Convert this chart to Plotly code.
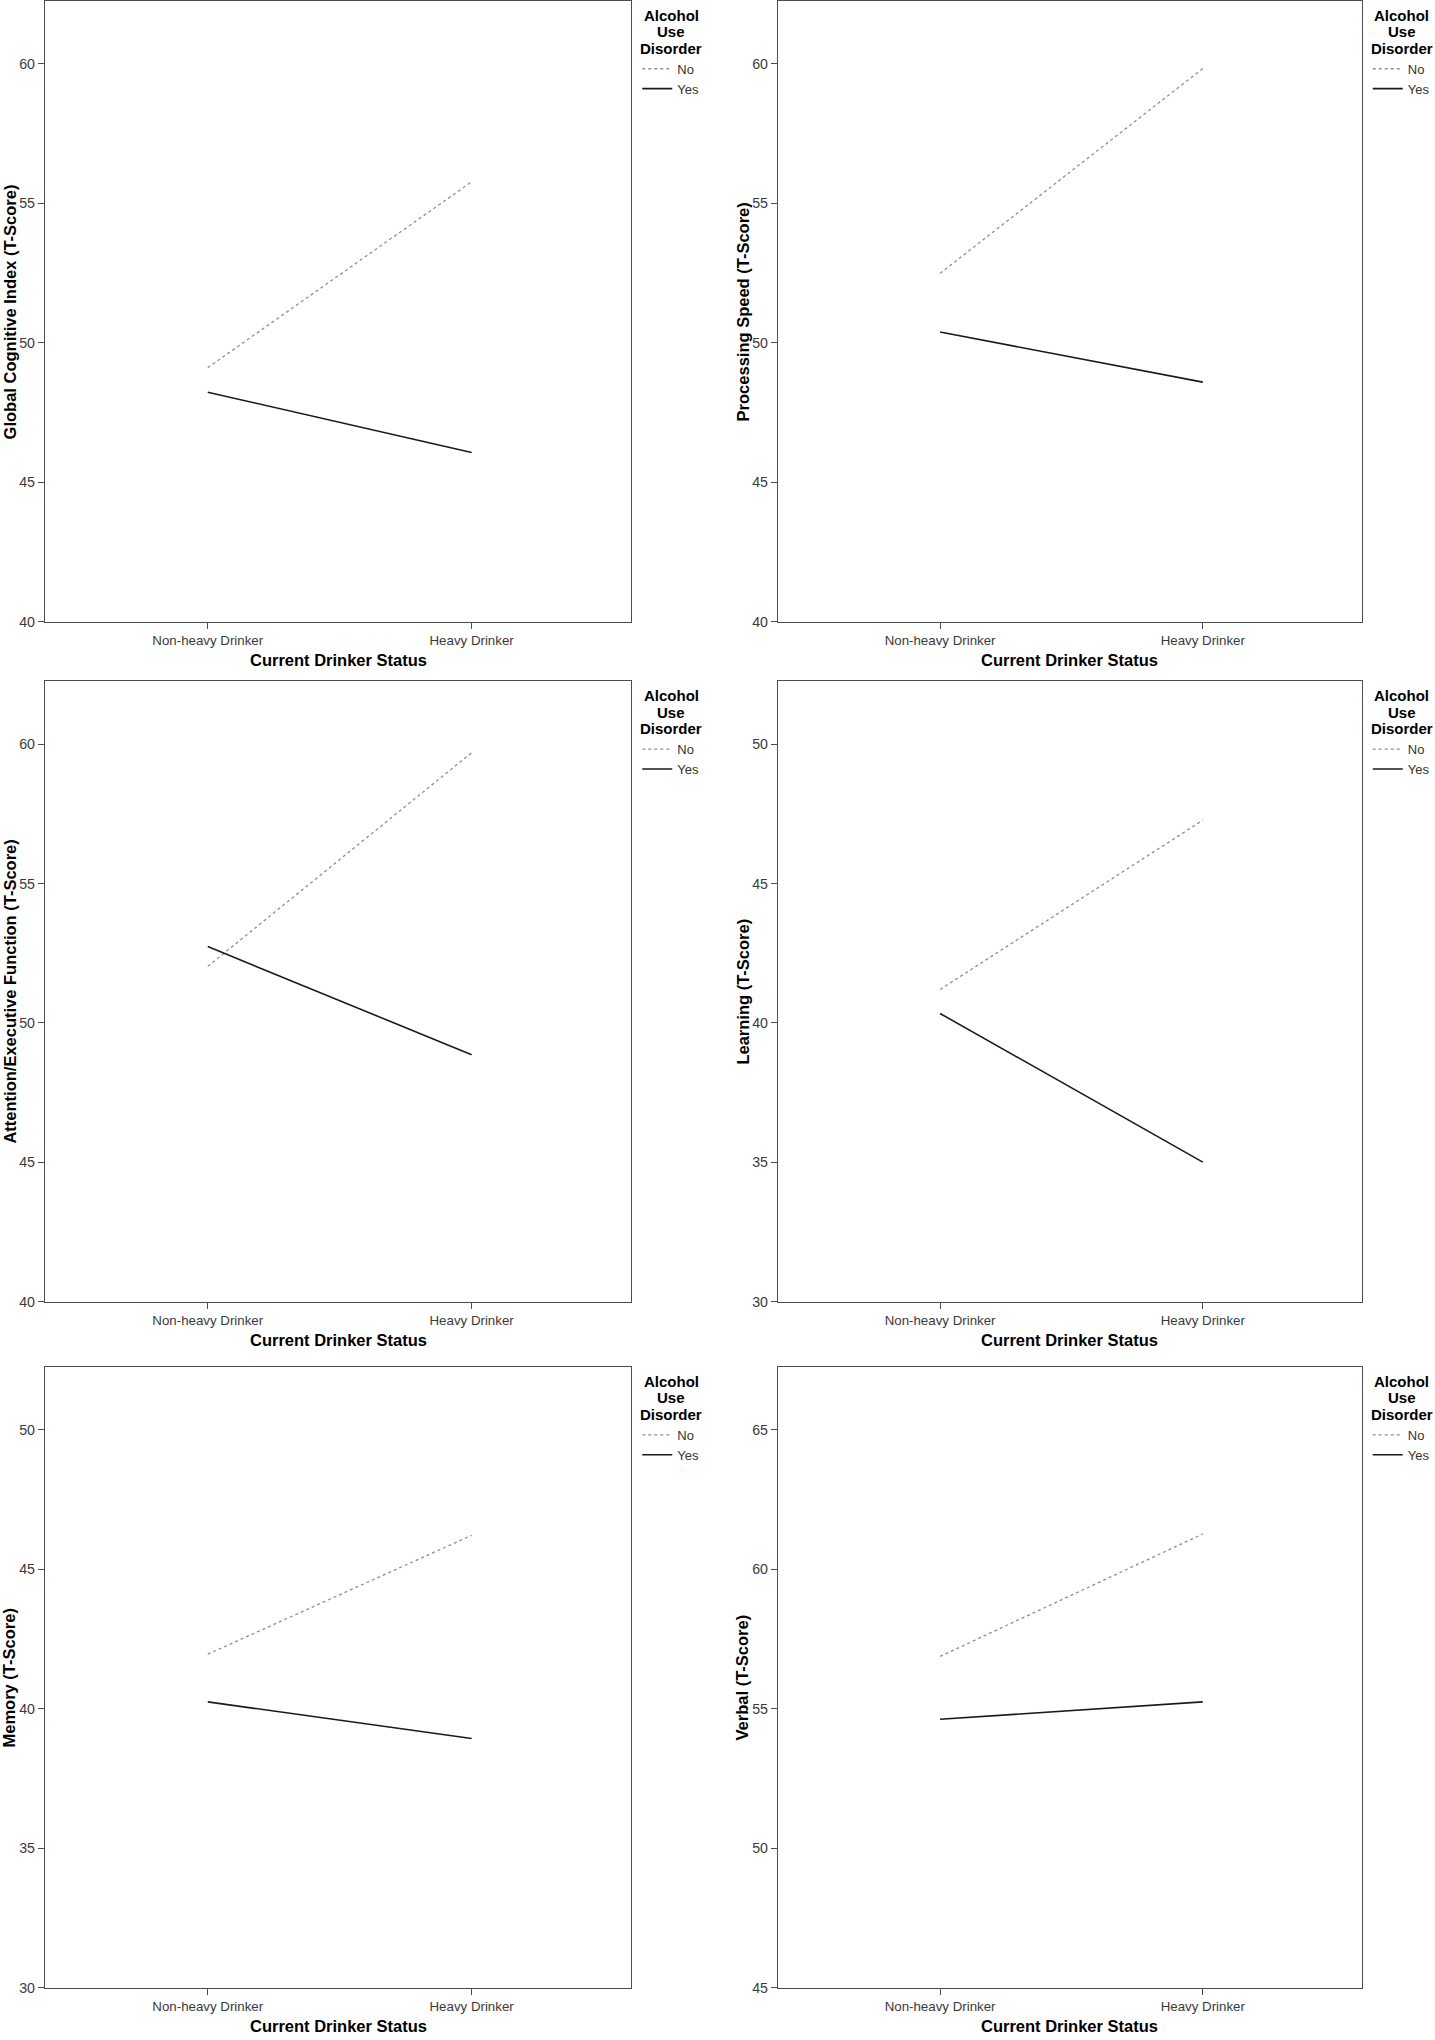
import plotly.graph_objects as go

# ---------------- data ----------------
categories = ["Non-heavy Drinker", "Heavy Drinker"]
series_names = ["No", "Yes"]
legend_title_lines = ["Alcohol", "Use", "Disorder"]
x_title = "Current Drinker Status"

y_titles = [
    "Global Cognitive Index (T-Score)",
    "Processing Speed (T-Score)",
    "Attention/Executive Function (T-Score)",
    "Learning (T-Score)",
    "Memory (T-Score)",
    "Verbal (T-Score)",
]

global_no = [49.11, 55.77]
global_yes = [48.23, 46.07]
speed_no = [52.49, 59.83]
speed_yes = [50.39, 48.59]
attention_no = [52.03, 59.69]
attention_yes = [52.74, 48.86]
learning_no = [41.20, 47.27]
learning_yes = [40.34, 35.01]
memory_no = [41.96, 46.22]
memory_yes = [40.25, 38.94]
verbal_no = [56.88, 61.27]
verbal_yes = [54.63, 55.25]

no_series = [global_no, speed_no, attention_no, learning_no, memory_no, verbal_no]
yes_series = [global_yes, speed_yes, attention_yes, learning_yes, memory_yes, verbal_yes]

y_mins = [40, 40, 40, 30, 30, 45]
y_tick_lists = [
    [40, 45, 50, 55, 60],
    [40, 45, 50, 55, 60],
    [40, 45, 50, 55, 60],
    [30, 35, 40, 45, 50],
    [30, 35, 40, 45, 50],
    [45, 50, 55, 60, 65],
]

# ---------------- layout geometry (pixels) ----------------
W, H = 1435, 2040
col_px = [(45.0, 631.7), (778.5, 1362.7)]
row_px = [(1.0, 624.3), (684.0, 1307.0), (1372.5, 1995.7)]
y_span = 22.25
x_range = [-0.617, 1.605]

FONT = "Liberation Sans, Arial, Helvetica, sans-serif"
FRAME = "#4d4d4d"

fig = go.Figure()
annotations = []
layout = dict(
    width=W, height=H,
    margin=dict(l=0, r=0, t=0, b=0),
    paper_bgcolor="white", plot_bgcolor="white",
    font=dict(family=FONT, color="#333333"),
    showlegend=True,
)

for i in range(6):
    r, c = divmod(i, 2)
    n = i + 1
    sfx = "" if n == 1 else str(n)
    xl, xr = col_px[c]
    yt, yb = row_px[r]
    xdom = [xl / W, xr / W]
    ydom = [1 - yb / H, 1 - yt / H]
    leg = "legend" if n == 1 else f"legend{n}"

    fig.add_trace(go.Scatter(
        x=categories, y=no_series[i], mode="lines", name=series_names[0],
        line=dict(color="#8e8e8e", width=1.3, dash="dot"),
        xaxis="x" + sfx, yaxis="y" + sfx, legend=leg, hoverinfo="skip",
    ))
    fig.add_trace(go.Scatter(
        x=categories, y=yes_series[i], mode="lines", name=series_names[1],
        line=dict(color="#1a1a1a", width=1.6),
        xaxis="x" + sfx, yaxis="y" + sfx, legend=leg, hoverinfo="skip",
    ))

    layout["xaxis" + sfx] = dict(
        domain=xdom, anchor="y" + sfx, type="category",
        range=x_range, showline=True, mirror=True, linecolor=FRAME, linewidth=1.4,
        ticks="outside", ticklen=6, tickcolor=FRAME, tickwidth=1.3,
        showgrid=False, zeroline=False, fixedrange=True,
        tickfont=dict(family=FONT, size=13.3, color="#3a3a3a"),
    )
    layout["yaxis" + sfx] = dict(
        domain=ydom, anchor="x" + sfx,
        range=[y_mins[i], y_mins[i] + y_span],
        tickvals=y_tick_lists[i], ticktext=[str(v) for v in y_tick_lists[i]],
        showline=True, mirror=True, linecolor=FRAME, linewidth=1.4,
        ticks="outside", ticklen=6, tickcolor=FRAME, tickwidth=1.3,
        showgrid=False, zeroline=False, fixedrange=True,
        tickfont=dict(family=FONT, size=14.2, color="#3a3a3a"),
    )
    layout[leg] = dict(
        x=(xr + 6) / W, xanchor="left",
        y=1 - (yt + 53) / H, yanchor="top",
        bgcolor="rgba(0,0,0,0)", borderwidth=0,
        font=dict(family=FONT, size=13, color="#333333"),
        itemwidth=30, tracegroupgap=0,
    )

    # legend title (three centred lines)
    for k, line in enumerate(legend_title_lines):
        annotations.append(dict(
            text=f"<b>{line}</b>",
            x=(xr + 40) / W, y=1 - (yt + 14.5 + 16.5 * k) / H,
            xref="paper", yref="paper", xanchor="center", yanchor="middle",
            showarrow=False, font=dict(family=FONT, size=15, color="#000000"),
        ))

    # y-axis title
    annotations.append(dict(
        text=f"<b>{y_titles[i]}</b>", textangle=-90,
        x=(xl - 35) / W, y=1 - ((yt + yb) / 2) / H,
        xref="paper", yref="paper", xanchor="center", yanchor="middle",
        showarrow=False, font=dict(family=FONT, size=16.5, color="#000000"),
    ))
    # x-axis title
    annotations.append(dict(
        text=f"<b>{x_title}</b>",
        x=((xl + xr) / 2) / W, y=1 - (yb + 38) / H,
        xref="paper", yref="paper", xanchor="center", yanchor="middle",
        showarrow=False, font=dict(family=FONT, size=16.5, color="#000000"),
    ))

layout["annotations"] = annotations
fig.update_layout(**layout)
fig.write_html(
    "out.html",
    config={"displayModeBar": False},
    post_script="document.body.style.margin='0px';document.body.style.overflow='hidden';",
)
